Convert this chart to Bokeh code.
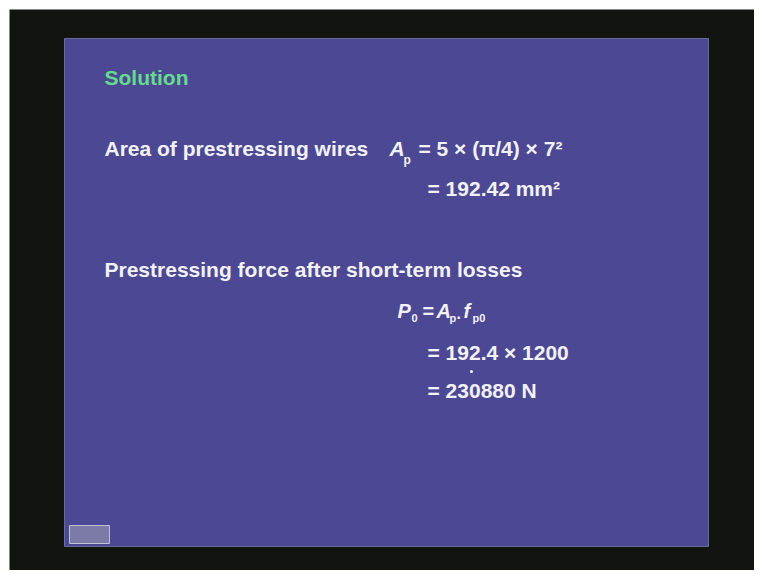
from bokeh.plotting import figure
from bokeh.models import Range1d
from bokeh.core.properties import value
from bokeh.embed import file_html
from bokeh.resources import INLINE

# ---- slide content (text) ----
title = ["Solution"]
area_label = ["Area of prestressing wires"]
area_sym = ["A"]
area_sub = ["p"]
area_eq = ["= 5 \u00d7 (\u03c0/4) \u00d7 7\u00b2"]
area_res = ["= 192.42 mm\u00b2"]
force_label = ["Prestressing force after short-term losses"]
p0_sym = ["P"]
p0_sub = ["0"]
p0_eqsign = ["="]
p0_a = ["A"]
p0_a_sub = ["p"]
p0_dot = ["."]
p0_f = ["f"]
p0_f_sub = ["p0"]
p0_eq2 = ["= 192.4 \u00d7 1200"]
p0_eq3 = ["= 230880 N"]

FONT = value("Liberation Sans")
W, H = 754, 570

p = figure(width=W, height=H, x_range=Range1d(0, W), y_range=Range1d(H, 0),
           output_backend="svg", toolbar_location=None, min_border=0)
p.axis.visible = False
p.grid.visible = False
p.outline_line_color = None
p.background_fill_color = "white"
p.border_fill_color = "white"

# dark video frame
p.quad(left=[9], right=[W], top=[9], bottom=[H], fill_color="#11140f", line_color=None)
# slide panel
p.quad(left=[64], right=[708], top=[38], bottom=[546],
       fill_color="#4d4893", line_color="#6a6a9a", line_width=1)
# small icon bottom-left
p.quad(left=[69], right=[109], top=[525], bottom=[543],
       fill_color="#7c7aa6", line_color="#c0c0d8", line_width=1)

white = "#f2f2f6"

def txt(x, y, t, size, color=white, style="bold", baseline="middle"):
    p.text(x=[x], y=[y], text=t, text_font=FONT, text_font_size=f"{size}px",
           text_font_style=style, text_color=color, text_baseline=baseline,
           text_align="left")

txt(104, 77, title, 21, color="#63dc8e")

txt(104, 148, area_label, 21)
txt(389, 148, area_sym, 21, style="bold italic")
txt(403, 159, area_sub, 12)
txt(418, 148, area_eq, 21)
txt(427, 188, area_res, 21)

txt(104, 269, force_label, 21)

txt(397, 310, p0_sym, 20, style="bold italic")
txt(411, 317, p0_sub, 11)
txt(422, 310, p0_eqsign, 20)
txt(436, 310, p0_a, 20, style="bold italic")
txt(449, 317, p0_a_sub, 11)
txt(456, 312, p0_dot, 16)
txt(463, 310, p0_f, 20, style="bold italic")
txt(472, 317, p0_f_sub, 11)
txt(427, 352, p0_eq2, 21)
txt(427, 390, p0_eq3, 21)

# cursor speck
p.scatter(x=[471], y=[371], size=3, marker="circle", fill_color=white, line_color=None)

open("out.html", "w").write(file_html(p, INLINE))
